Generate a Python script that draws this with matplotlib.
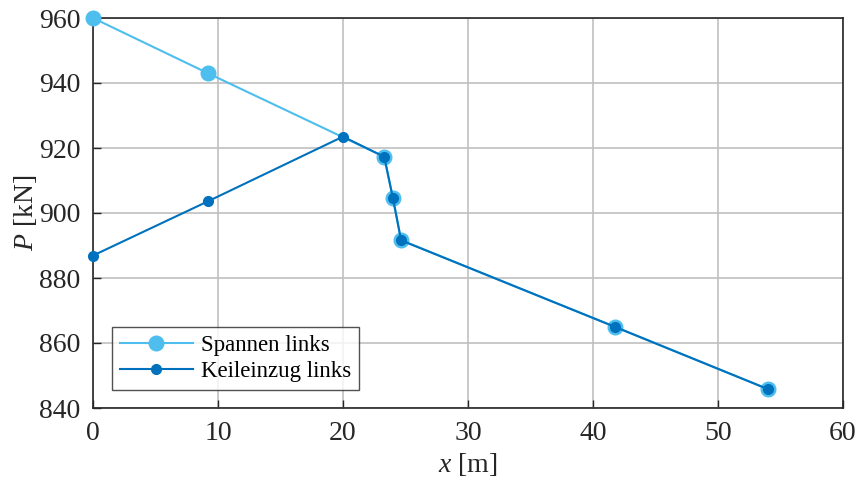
import matplotlib
matplotlib.use("Agg")
import matplotlib.pyplot as plt

plt.rcParams['font.family'] = ['Liberation Serif', 'DejaVu Serif']
plt.rcParams['mathtext.fontset'] = 'custom'
plt.rcParams['mathtext.it'] = 'Liberation Serif:italic'
plt.rcParams['mathtext.rm'] = 'Liberation Serif'

x_spannen = [0, 9.2, 23.3, 24.0, 24.65, 41.8, 54.0]
p_spannen = [960, 943, 917.3, 904.5, 891.6, 864.9, 845.8]
x_keil = [0, 9.2, 20.0, 23.3, 24.0, 24.65, 41.8, 54.0]
p_keil = [886.9, 903.6, 923.5, 917.3, 904.5, 891.6, 864.9, 845.8]
xticks = [0, 10, 20, 30, 40, 50, 60]
yticks = [840, 860, 880, 900, 920, 940, 960]

fig = plt.figure(figsize=(8.56, 4.8), dpi=100)
ax = fig.add_axes([0.1086, 0.15, 0.8762, 0.8125])

c1 = '#4DBEEE'
c2 = '#0072BD'
ax.plot(x_spannen, p_spannen, '-o', color=c1, lw=1.5, ms=10.5, label='Spannen links', clip_on=False, zorder=3)
ax.plot(x_keil, p_keil, '-o', color=c2, lw=1.5, ms=7, label='Keileinzug links', clip_on=False, zorder=4)

ax.set_xlim(0, 60)
ax.set_ylim(840, 960)
ax.set_xticks(xticks)
ax.set_yticks(yticks)
ax.grid(True, color='#c0c0c0', lw=1.2)
ax.set_axisbelow(True)
ax.tick_params(direction='in', labelsize=20, length=6, width=1, color='#262626', labelcolor='#262626')
ax.tick_params(axis='y', pad=9)
ax.tick_params(axis='x', pad=9)
for s in ax.spines.values():
    s.set_color('#262626')
    s.set_linewidth(1.2)

ax.set_xlabel(r'$x$ [m]', fontsize=20, color='#262626', labelpad=4)
ax.set_ylabel(r'$P$ [kN]', fontsize=20, color='#262626', labelpad=0)

leg = ax.legend(loc='lower left', bbox_to_anchor=(0.025, 0.045), fontsize=16.5, frameon=True,
                fancybox=False, edgecolor='#262626', handlelength=3.2, borderpad=0.35,
                labelspacing=0.25, handletextpad=0.35, borderaxespad=0)
leg.get_frame().set_linewidth(1.0)

fig.savefig('out.png', dpi=100)
